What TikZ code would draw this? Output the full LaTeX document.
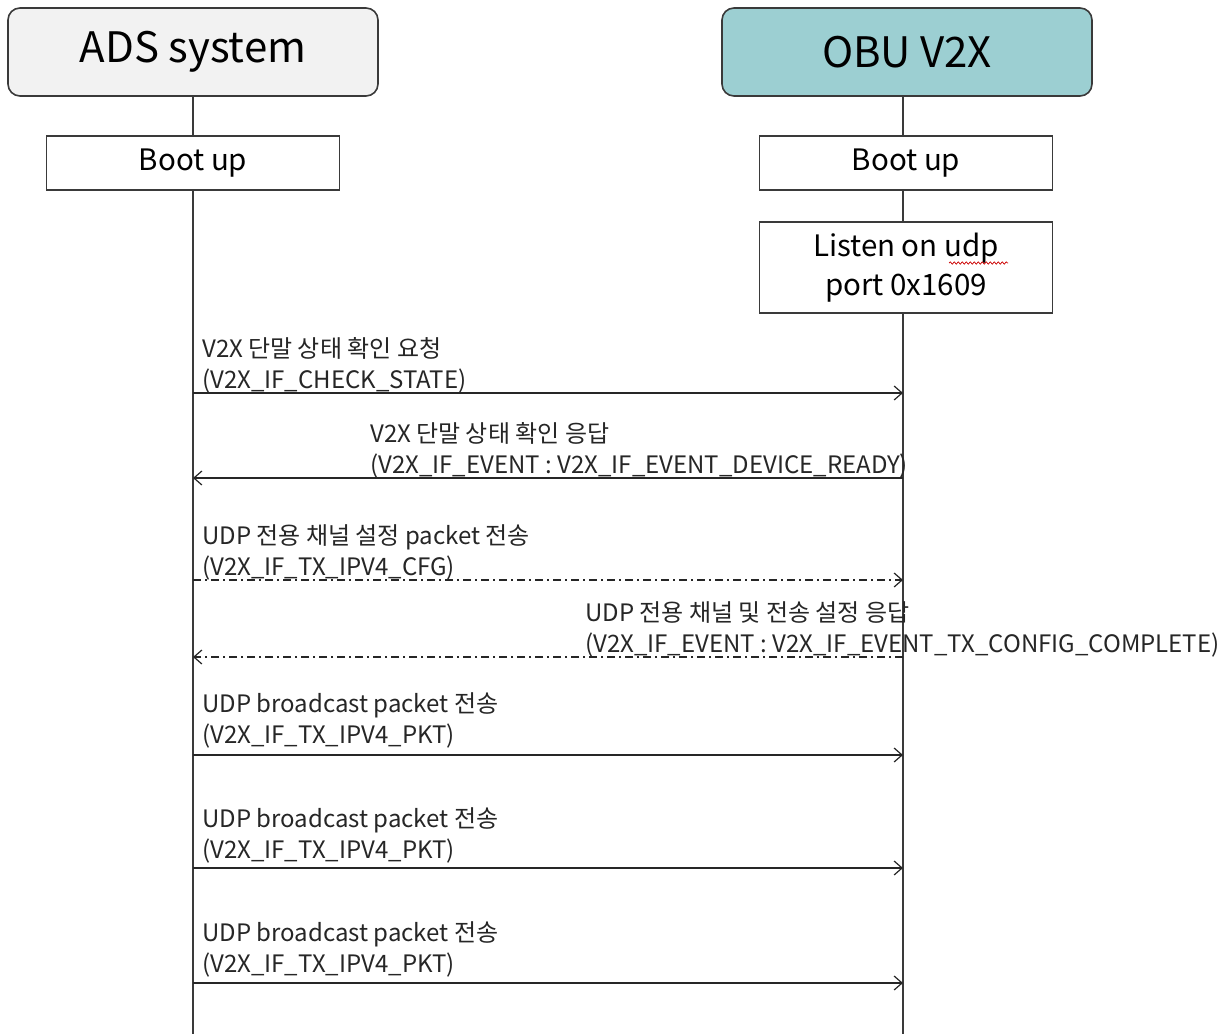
\documentclass[tikz,border=0pt]{standalone}
\usepackage{fontspec}
\setmainfont{Noto Sans CJK KR}
\usetikzlibrary{arrows.meta,decorations.pathmorphing}
\definecolor{frame}{HTML}{3A3A3A}
\definecolor{adsfill}{HTML}{F2F2F2}
\definecolor{obufill}{HTML}{9CCFD2}
\tikzset{
  actor/.style={draw=frame,line width=1.6pt,rounded corners=12pt,minimum width=370pt,minimum height=88pt,font=\fontsize{42}{46}\selectfont,inner sep=0pt},
  stepbox/.style={draw=frame,line width=1.4pt,fill=white,minimum width=293pt,inner sep=0pt,font=\fontsize{29.5}{39}\selectfont,align=center},
  life/.style={draw=frame,line width=1.4pt},
  msg/.style={draw=black!85,line width=1.3pt,-{Straight Barb[length=8pt,width=14pt,line width=1.2pt]}},
  dashmsg/.style={msg,dash pattern=on 8pt off 4pt on 2pt off 4pt},
  lbl/.style={anchor=south west,inner sep=0pt,align=left,font=\fontsize{24}{31}\selectfont,text=black!85}
}
\begin{document}
\begin{tikzpicture}[x=1pt,y=-1pt]
\useasboundingbox (0,0) rectangle (1228,1034);
\fill[white] (0,0) rectangle (1228,1034);

% participants
\node[actor,fill=adsfill] (ads) at (193,52) {ADS system};
\node[actor,fill=obufill] (obu) at (907,52) {OBU V2X};

\node[stepbox,minimum height=54pt] (adsboot) at (193,163) {\raisebox{-2pt}{Boot up}};
\node[stepbox,minimum height=54pt] (obuboot) at (906,163) {\raisebox{-2pt}{Boot up}};
\node[stepbox,minimum height=91pt] (listen) at (906,267.5) {Listen on udp\\port 0x1609};

% spell-check underline under "udp"
\draw[red!80!black,line width=0.7pt,decorate,decoration={snake,amplitude=1.2pt,segment length=4pt}]
  (949,263) -- (1008,263);

% lifelines
\coordinate (adsend) at (193,1034);
\coordinate (obuend) at (903,1034);
\draw[life] (ads.south) -- (adsboot.north);
\draw[life] (adsboot.south) -- (adsend);
\draw[life] (903,96) -- (903,136);
\draw[life] (903,190) -- (903,222);
\draw[life] (903,313) -- (obuend);

% message anchor points on the two lifelines
\foreach \i/\y in {1/393,2/478,3/580,4/657,5/755,6/868,7/983}{
  \coordinate (l\i) at (193,\y);
  \coordinate (r\i) at (903,\y);
}

% messages
\draw[msg] (l1) -- (r1);
\node[lbl] (t1) at (202,393) {V2X 단말 상태 확인 요청\\(V2X\_IF\_CHECK\_STATE)};

\draw[msg] (r2) -- (l2);
\node[lbl] (t2) at (370,478) {V2X 단말 상태 확인 응답\\(V2X\_IF\_EVENT : V2X\_IF\_EVENT\_DEVICE\_READY)};

\draw[dashmsg] (l3) -- (r3);
\node[lbl] (t3) at (202,580) {UDP 전용 채널 설정 packet 전송\\(V2X\_IF\_TX\_IPV4\_CFG)};

\draw[dashmsg] (r4) -- (l4);
\node[lbl] (t4) at (585,657) {UDP 전용 채널 및 전송 설정 응답\\(V2X\_IF\_EVENT : V2X\_IF\_EVENT\_TX\_CONFIG\_COMPLETE)};

\draw[msg] (l5) -- (r5);
\node[lbl] (t5) at (202,748) {UDP broadcast packet 전송\\(V2X\_IF\_TX\_IPV4\_PKT)};

\draw[msg] (l6) -- (r6);
\node[lbl] (t6) at (202,863) {UDP broadcast packet 전송\\(V2X\_IF\_TX\_IPV4\_PKT)};

\draw[msg] (l7) -- (r7);
\node[lbl] (t7) at (202,977) {UDP broadcast packet 전송\\(V2X\_IF\_TX\_IPV4\_PKT)};
\end{tikzpicture}
\end{document}
